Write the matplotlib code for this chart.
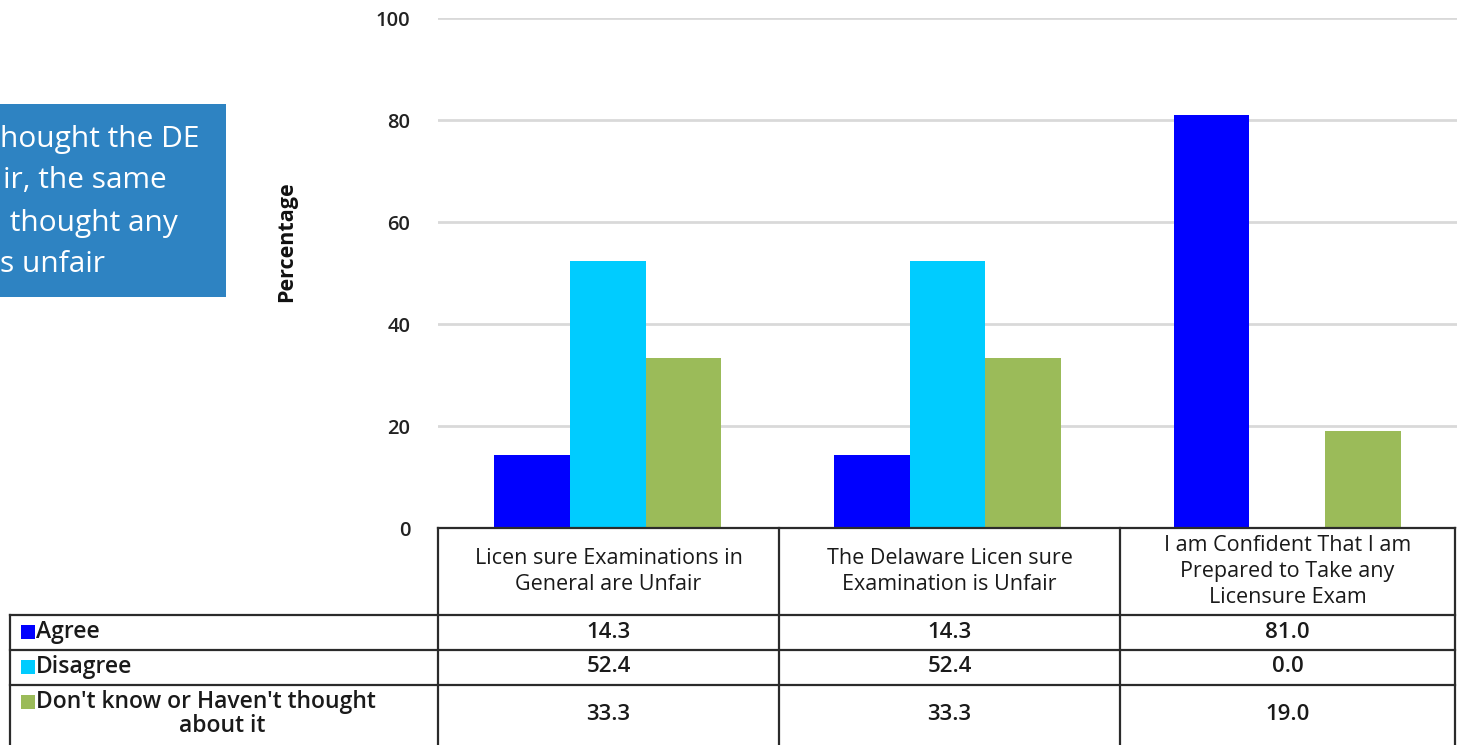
import matplotlib
matplotlib.use("Agg")
import matplotlib.pyplot as plt
from matplotlib.patches import Rectangle
import numpy as np

# ---- data ----
categories = [
    ["Licen sure Examinations in", "General are Unfair"],
    ["The Delaware Licen sure", "Examination is Unfair"],
    ["I am Confident That I am", "Prepared to Take any", "Licensure Exam"],
]
series_names = ["Agree", "Disagree", "Don't know or Haven't thought\nabout it"]
agree = [14.3, 14.3, 81.0]
disagree = [52.4, 52.4, 0.0]
dont_know = [33.3, 33.3, 19.0]
series_colors = ["#0000FF", "#00CCFF", "#9BBB59"]
y_ticks = [0, 20, 40, 60, 80, 100]
callout_lines = ["hought the DE", "ir, the same", " thought any", "s unfair"]

W, H = 1457, 745
fig = plt.figure(figsize=(W / 100, H / 100), dpi=100)
fig.patch.set_facecolor("white")

FONT = "Open Sans"
TXT = "#1a1a1a"

# ---- bar chart ----
left_px, right_px, top_px, bot_px = 438, 1457, 18, 528
ax = fig.add_axes([left_px / W, (H - bot_px) / H, (right_px - left_px) / W, (bot_px - top_px) / H])
series = [agree, disagree, dont_know]
x = np.arange(len(categories))
bw = 0.223
for i, (vals, col) in enumerate(zip(series, series_colors)):
    ax.bar(x + (i - 1) * bw, vals, width=bw, color=col, zorder=3, linewidth=0)
ax.set_xlim(-0.5, 2.5)
ax.set_ylim(0, 100)
ax.set_yticks(y_ticks)
ax.set_yticklabels([str(t) for t in y_ticks], fontfamily=FONT, fontsize=14.5,
                   fontweight="semibold", color="#222222")
ax.tick_params(axis="y", length=0, pad=20)
ax.set_xticks([])
ax.grid(axis="y", color="#D9D9D9", linewidth=2, zorder=0)
for s in ax.spines.values():
    s.set_visible(False)

# ---- overlay in pixel coordinates: table and callout ----
ov = fig.add_axes([0, 0, 1, 1], zorder=5)
ov.set_xlim(0, W)
ov.set_ylim(H, 0)
ov.axis("off")
ov.patch.set_alpha(0)

ov.text(287, 242, "Percentage", rotation=90, ha="center", va="center",
        fontfamily=FONT, fontsize=15.5, fontweight="bold", color="#111111")

lc, lw = "#2b2b2b", 1.6
col_x = [438, 779, 1120, 1455]
row_y = [615, 650, 685, 760]
ov.plot([438, 1455], [528, 528], color=lc, lw=lw)
for cx in col_x:
    ov.plot([cx, cx], [528, 760], color=lc, lw=lw)
ov.plot([10, 10], [615, 760], color=lc, lw=lw)
for ry in row_y[:-1]:
    ov.plot([10, 1455], [ry, ry], color=lc, lw=lw)

fs = 15.5
# header cells
for j, lines in enumerate(categories):
    cx = (col_x[j] + col_x[j + 1]) / 2
    n = len(lines)
    y0 = 571.5 - (n - 1) * 13
    for k, line in enumerate(lines):
        ov.text(cx, y0 + k * 26, line, ha="center", va="center", fontfamily=FONT,
                fontsize=fs, color=TXT)

# row labels with colour keys
row_centers = [632, 667, 714]
for name, col, yc in zip(series_names, series_colors, row_centers):
    lines = name.split("\n")
    ytop = yc if len(lines) == 1 else 702
    ov.add_patch(Rectangle((21, ytop - 7), 14, 14, color=col, lw=0))
    ov.text(36, ytop, lines[0], ha="left", va="center", fontfamily=FONT,
            fontsize=16.5, fontweight="semibold", color=TXT)
    if len(lines) > 1:
        ov.text(222, 726, lines[1], ha="center", va="center", fontfamily=FONT,
                fontsize=16.5, fontweight="semibold", color=TXT)

# values
for vals, yc in zip(series, row_centers):
    for j, v in enumerate(vals):
        cx = (col_x[j] + col_x[j + 1]) / 2
        ov.text(cx, yc, f"{v:.1f}", ha="center", va="center", fontfamily=FONT,
                fontsize=16, fontweight="semibold", color=TXT)

# callout box
ov.add_patch(Rectangle((0, 104), 226, 193, color="#2E83C2", lw=0))
line_x = [0, 3, 2, 0]
line_y = [139, 181, 223, 265]
for t, lx, ly in zip(callout_lines, line_x, line_y):
    ov.text(lx, ly, t, ha="left", va="center", fontfamily="Open Sans",
            fontsize=21.5, color="white")

fig.savefig("out.png", dpi=100, facecolor="white")
